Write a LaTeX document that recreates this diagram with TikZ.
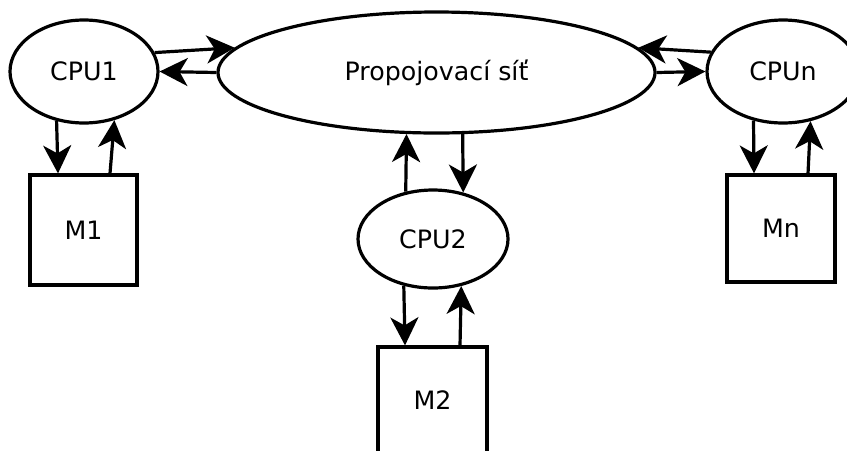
\documentclass[tikz,border=0pt]{standalone}
\usepackage{fontspec}
\setmainfont{DejaVu Sans}
\usetikzlibrary{arrows.meta, shapes.geometric}

\begin{document}
\begin{tikzpicture}[>={Stealth[length=0.28cm, width=0.28cm, inset=0.08cm]},
    line width=0.032cm,
    font=\fontsize{7.2}{9}\selectfont,
    procesor/.style={draw, ellipse, inner sep=0pt},
    pamet/.style={draw, rectangle, inner sep=0pt}]

    % Okraje obrazku
    \useasboundingbox (0,0) rectangle (8.47,-4.5);
    \clip (0,0) rectangle (8.47,-4.5);

    % Propojovaci sit a procesory
    \node[procesor, minimum width=4.37cm, minimum height=1.21cm] (sit) at (4.365,-0.725) {Propojovací síť};
    \node[procesor, minimum width=1.48cm, minimum height=1.03cm] (cpu1) at (0.84,-0.715) {CPU1};
    \node[procesor, minimum width=1.52cm, minimum height=1.03cm] (cpun) at (7.83,-0.715) {CPUn};
    \node[procesor, minimum width=1.50cm, minimum height=0.98cm] (cpu2) at (4.33,-2.39) {CPU2};

    % Pameti
    \node[pamet, minimum width=1.07cm, minimum height=1.10cm] (m1) at (0.835,-2.30) {M1};
    \node[pamet, minimum width=1.08cm, minimum height=1.07cm] (mn) at (7.81,-2.285) {Mn};
    \node[pamet, minimum width=1.09cm, minimum height=1.06cm] (m2) at (4.325,-4.00) {M2};

    % Spojeni procesoru se siti
    \draw[->] (cpu1.15) -- (sit.173);
    \draw[->] (sit.west) -- (cpu1.east);
    \draw[->] (cpun.165) -- (sit.7);
    \draw[->] (sit.east) -- (cpun.west);
    \draw[->] (cpu2.120) -- (sit.244);
    \draw[->] (sit.293) -- (cpu2.57);

    % Spojeni procesoru s pametmi
    \draw[->] (cpu1.241) -- ([xshift=-0.255cm]m1.north);
    \draw[->] ([xshift=0.265cm]m1.north) -- (cpu1.302);
    \draw[->] (cpun.239) -- ([xshift=-0.27cm]mn.north);
    \draw[->] ([xshift=0.27cm]mn.north) -- (cpun.299);
    \draw[->] (cpu2.238) -- ([xshift=-0.275cm]m2.north);
    \draw[->] ([xshift=0.275cm]m2.north) -- (cpu2.301);

\end{tikzpicture}
\end{document}
